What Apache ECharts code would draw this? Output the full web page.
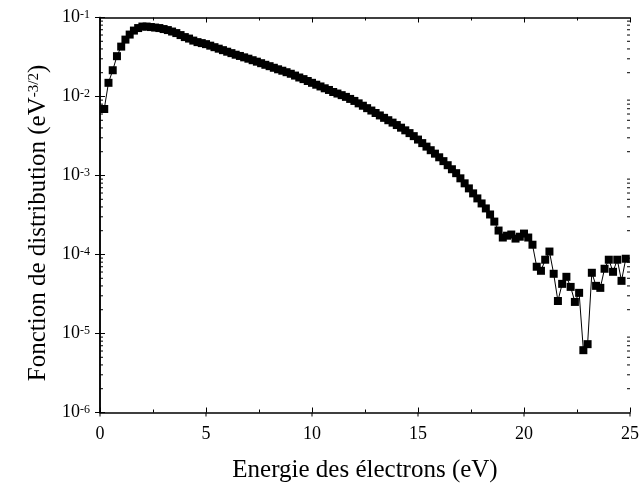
<!DOCTYPE html>
<html>
<head>
<meta charset="utf-8">
<script src="https://cdn.jsdelivr.net/npm/echarts@6/dist/echarts.min.js"></script>
<style>
html,body{margin:0;padding:0;background:#fff;}
#chart{width:642px;height:488px;}
</style>
</head>
<body>
<div id="chart"></div>
<script>
// Electron energy (eV)
const energies = [
  0.2,0.4,0.6,0.8,1.0,1.2,1.4,1.6,1.8,2.0,
  2.2,2.4,2.6,2.8,3.0,3.2,3.4,3.6,3.8,4.0,
  4.2,4.4,4.6,4.8,5.0,5.2,5.4,5.6,5.8,6.0,
  6.2,6.4,6.6,6.8,7.0,7.2,7.4,7.6,7.8,8.0,
  8.2,8.4,8.6,8.8,9.0,9.2,9.4,9.6,9.8,10.0,
  10.2,10.4,10.6,10.8,11.0,11.2,11.4,11.6,11.8,12.0,
  12.2,12.4,12.6,12.8,13.0,13.2,13.4,13.6,13.8,14.0,
  14.2,14.4,14.6,14.8,15.0,15.2,15.4,15.6,15.8,16.0,
  16.2,16.4,16.6,16.8,17.0,17.2,17.4,17.6,17.8,18.0,
  18.2,18.4,18.6,18.8,19.0,19.2,19.4,19.6,19.8,20.0,
  20.2,20.4,20.6,20.8,21.0,21.2,21.4,21.6,21.8,22.0,
  22.2,22.4,22.6,22.8,23.0,23.2,23.4,23.6,23.8,24.0,
  24.2,24.4,24.6,24.8
];
// Distribution function (eV^-3/2)
const distribution = [
  0.00695,0.0149,0.0215,0.0324,0.0428,0.0525,0.0608,0.0683,0.0735,0.0768,
  0.0768,0.0757,0.0746,0.0735,0.0714,0.0693,0.0664,0.0635,0.0599,0.0565,
  0.0541,0.0510,0.0488,0.0474,0.0460,0.0440,0.0421,0.0403,0.0386,0.0369,
  0.0354,0.0338,0.0326,0.0313,0.0301,0.0288,0.0276,0.0264,0.0252,0.0242,
  0.0231,0.0221,0.0212,0.0203,0.0194,0.0184,0.0174,0.0166,0.0157,0.0149,
  0.0141,0.0134,0.0127,0.0121,0.0114,0.0109,0.0104,0.00989,0.00932,0.00879,
  0.00819,0.00764,0.00712,0.00664,0.00618,0.00576,0.00537,0.00501,0.00467,0.00435,
  0.00403,0.00373,0.00344,0.00315,0.00285,0.00257,0.00232,0.00209,0.00189,0.00170,
  0.00152,0.00135,0.00120,0.00107,0.000921,0.000796,0.000687,0.000594,0.000513,0.000443,
  0.000383,0.000321,0.000261,0.000201,0.000164,0.000173,0.000179,0.000159,0.000168,0.000184,
  0.000164,0.000133,0.0000700,0.0000622,0.0000859,0.000109,0.0000570,0.0000258,0.0000425,0.0000522,
  0.0000389,0.0000251,0.0000327,0.00000615,0.00000733,0.0000587,0.0000401,0.0000378,0.0000660,0.0000859,
  0.0000604,0.0000859,0.0000464,0.0000884
];
// Axis ticks
const xTicks = [0, 5, 10, 15, 20, 25];
const yExponents = [-6, -5, -4, -3, -2, -1];
const minorMultipliers = [2, 3, 4, 5, 6, 7, 8, 9];
const xTitle = 'Energie des électrons (eV)';
const yTitleMain = 'Fonction de distribution (eV';
const yTitleSup = '-3/2';

const FONT = '"Liberation Serif", "DejaVu Serif", serif';
const xMin = xTicks[0], xMax = xTicks[xTicks.length - 1];
const yMin = Math.pow(10, yExponents[0]), yMax = Math.pow(10, yExponents[yExponents.length - 1]);

const points = energies.map((e, i) => [e, distribution[i]]);

const minorY = [];
for (let k = 0; k < yExponents.length - 1; k++) {
  minorMultipliers.forEach(m => minorY.push([xMin, m * Math.pow(10, yExponents[k])]));
}
const majorY = yExponents.map(e => [xMin, Math.pow(10, e)]);
const majorX = xTicks.map(x => [x, yMin]);

const chart = echarts.init(document.getElementById('chart'));
const axisLineStyle = { color: '#000', width: 1.5 };

const option = {
  animation: false,
  backgroundColor: '#fff',
  grid: { left: 100, right: 10, top: 17.5, bottom: 75.5, containLabel: false },
  xAxis: [
    {
      type: 'value', min: xMin, max: xMax, interval: 5, position: 'bottom',
      axisLine: { lineStyle: axisLineStyle },
      axisTick: { inside: true, length: 5, lineStyle: { color: '#000', width: 1 } },
      minorTick: { show: true, splitNumber: 2, length: 3, lineStyle: { color: '#000', width: 1 } },
      splitLine: { show: false },
      axisLabel: { color: '#000', fontFamily: FONT, fontSize: 18, margin: 13 },
      name: xTitle, nameLocation: 'middle', nameGap: 45,
      nameTextStyle: { color: '#000', fontFamily: FONT, fontSize: 25 }
    },
    {
      type: 'value', min: xMin, max: xMax, interval: 5, position: 'top',
      axisLine: { lineStyle: axisLineStyle },
      axisTick: { inside: true, length: 5, lineStyle: { color: '#000', width: 1 } },
      minorTick: { show: true, splitNumber: 2, length: 3, lineStyle: { color: '#000', width: 1 } },
      splitLine: { show: false },
      axisLabel: { show: false }
    }
  ],
  yAxis: [
    {
      type: 'log', logBase: 10, min: yMin, max: yMax, interval: 1, position: 'left',
      axisLine: { lineStyle: axisLineStyle },
      axisTick: { inside: true, length: 5, lineStyle: { color: '#000', width: 1 } },
      splitLine: { show: false },
      axisLabel: {
        color: '#000', margin: 10,
        formatter: v => '{b|10}{s|' + Math.round(Math.log10(v)) + '}',
        rich: {
          b: { fontFamily: FONT, fontSize: 18, color: '#000' },
          s: { fontFamily: FONT, fontSize: 12, color: '#000', verticalAlign: 'top', padding: [0, 0, 6, 0] }
        }
      },
      name: '{n|' + yTitleMain + '}{s|' + yTitleSup + '}{n|)}',
      nameLocation: 'middle', nameGap: 48,
      nameTextStyle: {
        padding: [0, 16, 0, 0],
        rich: {
          n: { fontFamily: FONT, fontSize: 25, color: '#000' },
          s: { fontFamily: FONT, fontSize: 15, color: '#000', verticalAlign: 'top', padding: [0, 0, 10, 0] }
        }
      }
    },
    {
      type: 'log', logBase: 10, min: yMin, max: yMax, interval: 1, position: 'right',
      axisLine: { lineStyle: axisLineStyle },
      axisTick: { inside: true, length: 5, lineStyle: { color: '#000', width: 1 } },
      splitLine: { show: false },
      axisLabel: { show: false }
    }
  ],
  series: [
    {
      type: 'line',
      data: points,
      symbol: 'rect', symbolSize: 8,
      showSymbol: true, showAllSymbol: true,
      lineStyle: { color: '#000', width: 1 },
      itemStyle: { color: '#000' },
      clip: false,
      z: 3
    },
    {
      // minor ticks of the log axes (left and right)
      type: 'custom', data: minorY, clip: false, silent: true, z: 4,
      renderItem: (params, api) => {
        const v = api.value(1);
        const pl = api.coord([xMin, v]);
        const pr = api.coord([xMax, v]);
        return {
          type: 'group', children: [
            { type: 'line', shape: { x1: pl[0], y1: pl[1], x2: pl[0] + 3, y2: pl[1] }, style: { stroke: '#000', lineWidth: 1 } },
            { type: 'line', shape: { x1: pr[0] - 3, y1: pr[1], x2: pr[0], y2: pr[1] }, style: { stroke: '#000', lineWidth: 1 } }
          ]
        };
      }
    },
    {
      // outward part of major y ticks
      type: 'custom', data: majorY, clip: false, silent: true, z: 4,
      renderItem: (params, api) => {
        const p = api.coord([xMin, api.value(1)]);
        return { type: 'line', shape: { x1: p[0] - 4, y1: p[1], x2: p[0], y2: p[1] }, style: { stroke: '#000', lineWidth: 1 } };
      }
    },
    {
      // outward part of major x ticks
      type: 'custom', data: majorX, clip: false, silent: true, z: 4,
      renderItem: (params, api) => {
        const p = api.coord([api.value(0), yMin]);
        return { type: 'line', shape: { x1: p[0], y1: p[1], x2: p[0], y2: p[1] + 4 }, style: { stroke: '#000', lineWidth: 1 } };
      }
    }
  ]
};
chart.setOption(option);
</script>
</body>
</html>
